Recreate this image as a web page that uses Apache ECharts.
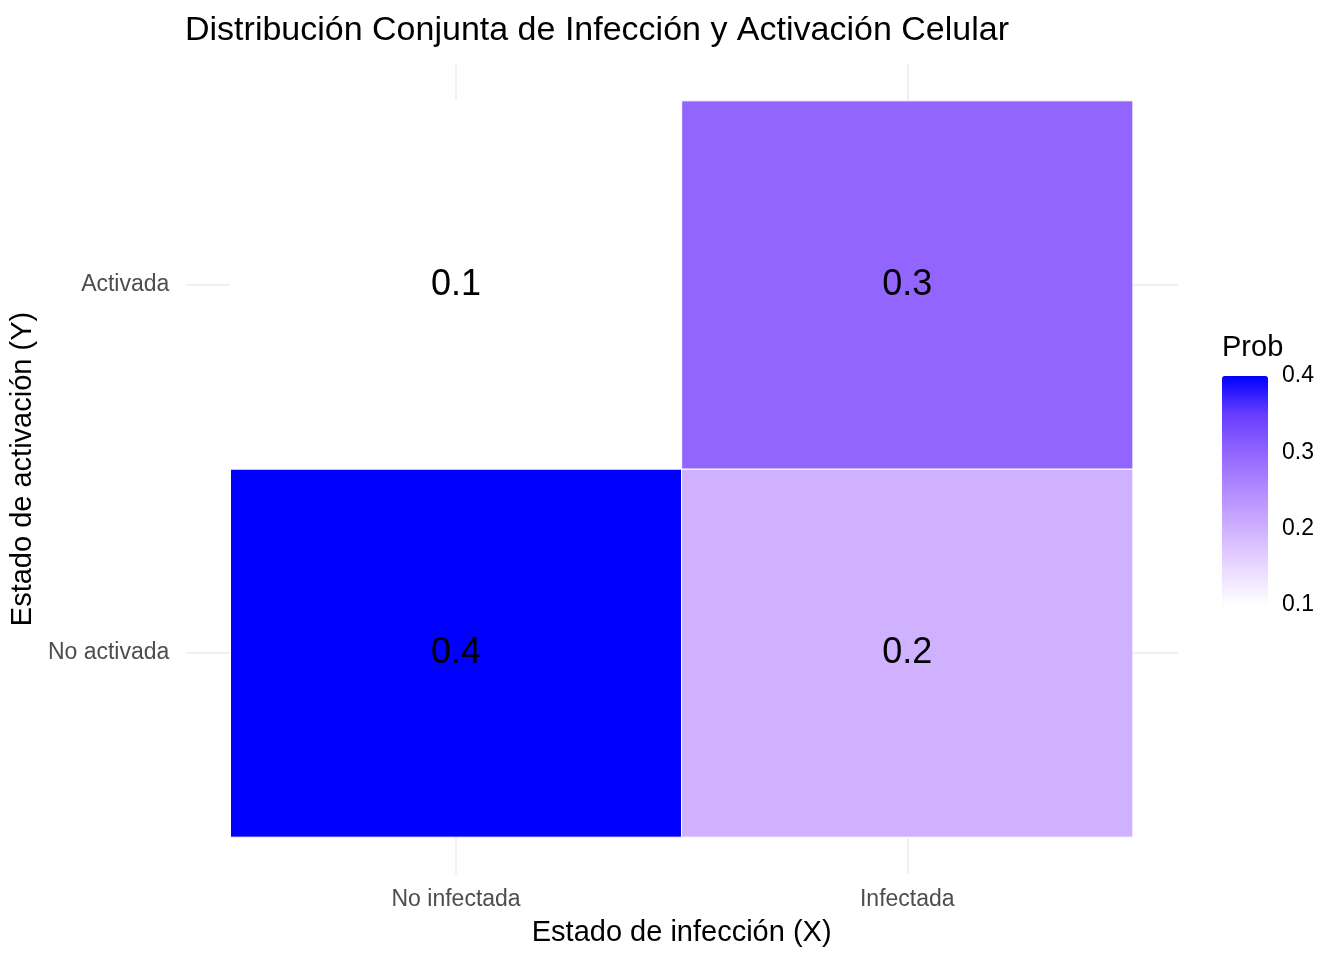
<!DOCTYPE html>
<html>
<head>
<meta charset="utf-8">
<script src="https://cdn.jsdelivr.net/npm/echarts@6/dist/echarts.min.js"></script>
<style>
html,body{margin:0;padding:0;background:#fff;}
#chart{width:1344px;height:960px;}
</style>
</head>
<body>
<div id="chart"></div>
<script>
const xCategories = ['No infectada', 'Infectada'];
const yCategories = ['No activada', 'Activada'];
const cellInfection = ['No infectada', 'No infectada', 'Infectada', 'Infectada'];
const cellActivation = ['No activada', 'Activada', 'No activada', 'Activada'];
const cellProb = [0.4, 0.1, 0.2, 0.3];
const legendTicks = [0.1, 0.2, 0.3, 0.4];
const legendInnerTicks = [0.2, 0.3];

const FONT = '"Liberation Sans", Arial, sans-serif';
const data = cellProb.map((p, i) => [
  xCategories.indexOf(cellInfection[i]) + 1,
  yCategories.indexOf(cellActivation[i]) + 1,
  p
]);

const chart = echarts.init(document.getElementById('chart'), null, {renderer: 'canvas'});
chart.setOption({
  backgroundColor: '#ffffff',
  animation: false,
  title: {
    text: 'Distribución Conjunta de Infección y Activación Celular',
    left: 185, top: 14, padding: 0,
    textStyle: {fontFamily: FONT, fontSize: 34, fontWeight: 'normal', color: '#000'}
  },
  grid: [
    {left: 184, right: 166, top: 64, bottom: 86},
    {left: 1222, top: 376, width: 46, height: 229}
  ],
  xAxis: [
    {
      type: 'value', gridIndex: 0, min: 0.4, max: 2.6,
      name: 'Estado de infección (X)', nameLocation: 'middle', nameGap: 44,
      nameTextStyle: {fontFamily: FONT, fontSize: 29, color: '#000'},
      axisLine: {show: false},
      axisTick: {show: false, customValues: [1, 2]},
      axisLabel: {customValues: [1, 2], margin: 14, fontFamily: FONT, fontSize: 23, color: '#4d4d4d',
        formatter: v => xCategories[Math.round(v) - 1] || ''},
      splitLine: {show: true, lineStyle: {color: '#ebebeb', width: 1.5}}
    },
    {type: 'value', gridIndex: 1, min: 0, max: 1, show: false}
  ],
  yAxis: [
    {
      type: 'value', gridIndex: 0, min: 0.4, max: 2.6,
      name: 'Estado de activación (Y)', nameLocation: 'middle', nameGap: 143,
      nameTextStyle: {fontFamily: FONT, fontSize: 29, color: '#000'},
      axisLine: {show: false},
      axisTick: {show: false, customValues: [1, 2]},
      axisLabel: {customValues: [1, 2], margin: 16, fontFamily: FONT, fontSize: 23, color: '#4d4d4d',
        formatter: v => yCategories[Math.round(v) - 1] || ''},
      splitLine: {show: true, lineStyle: {color: '#ebebeb', width: 1.5}}
    },
    {
      type: 'value', gridIndex: 1, min: 0.1, max: 0.4, interval: 0.1, position: 'right', z: 10,
      axisLine: {show: false},
      axisTick: {show: true, inside: true, length: 9, customValues: legendInnerTicks,
        lineStyle: {color: '#ffffff', width: 1.5}},
      splitLine: {show: false},
      axisLabel: {customValues: legendTicks, margin: 14, fontFamily: FONT, fontSize: 23, color: '#000',
        formatter: v => v.toFixed(1)}
    }
  ],
  graphic: [{
    type: 'text', left: 1222, top: 333, z: 10,
    style: {text: 'Prob', fontFamily: FONT, fontSize: 29, fill: '#000'}
  }],
  visualMap: {
    type: 'continuous', min: 0.1, max: 0.4, dimension: 2, seriesIndex: 0, z: 1,
    left: 1222, top: 376, padding: 0, itemWidth: 46, itemHeight: 229,
    calculable: false, hoverLink: false, text: null, showLabel: false,
    inRange: {color: ['#FFFFFF', '#E8D8FF', '#CFB1FF', '#B38BFF', '#9265FF', '#673DFF', '#0000FF']}
  },
  series: [{
    type: 'custom', xAxisIndex: 0, yAxisIndex: 0, z: 2,
    data: data,
    renderItem: function (params, api) {
      const x = api.value(0), y = api.value(1), v = api.value(2);
      const p0 = api.coord([x - 0.5, y + 0.5]);
      const p1 = api.coord([x + 0.5, y - 0.5]);
      return {
        type: 'rect',
        shape: {x: p0[0], y: p0[1], width: p1[0] - p0[0], height: p1[1] - p0[1]},
        style: {fill: api.visual('color'), stroke: '#ffffff', lineWidth: 1},
        textContent: {style: {text: v.toFixed(1), fontFamily: FONT, fontSize: 36, fill: '#000'}},
        textConfig: {position: 'inside'}
      };
    }
  }]
});
</script>
</body>
</html>
